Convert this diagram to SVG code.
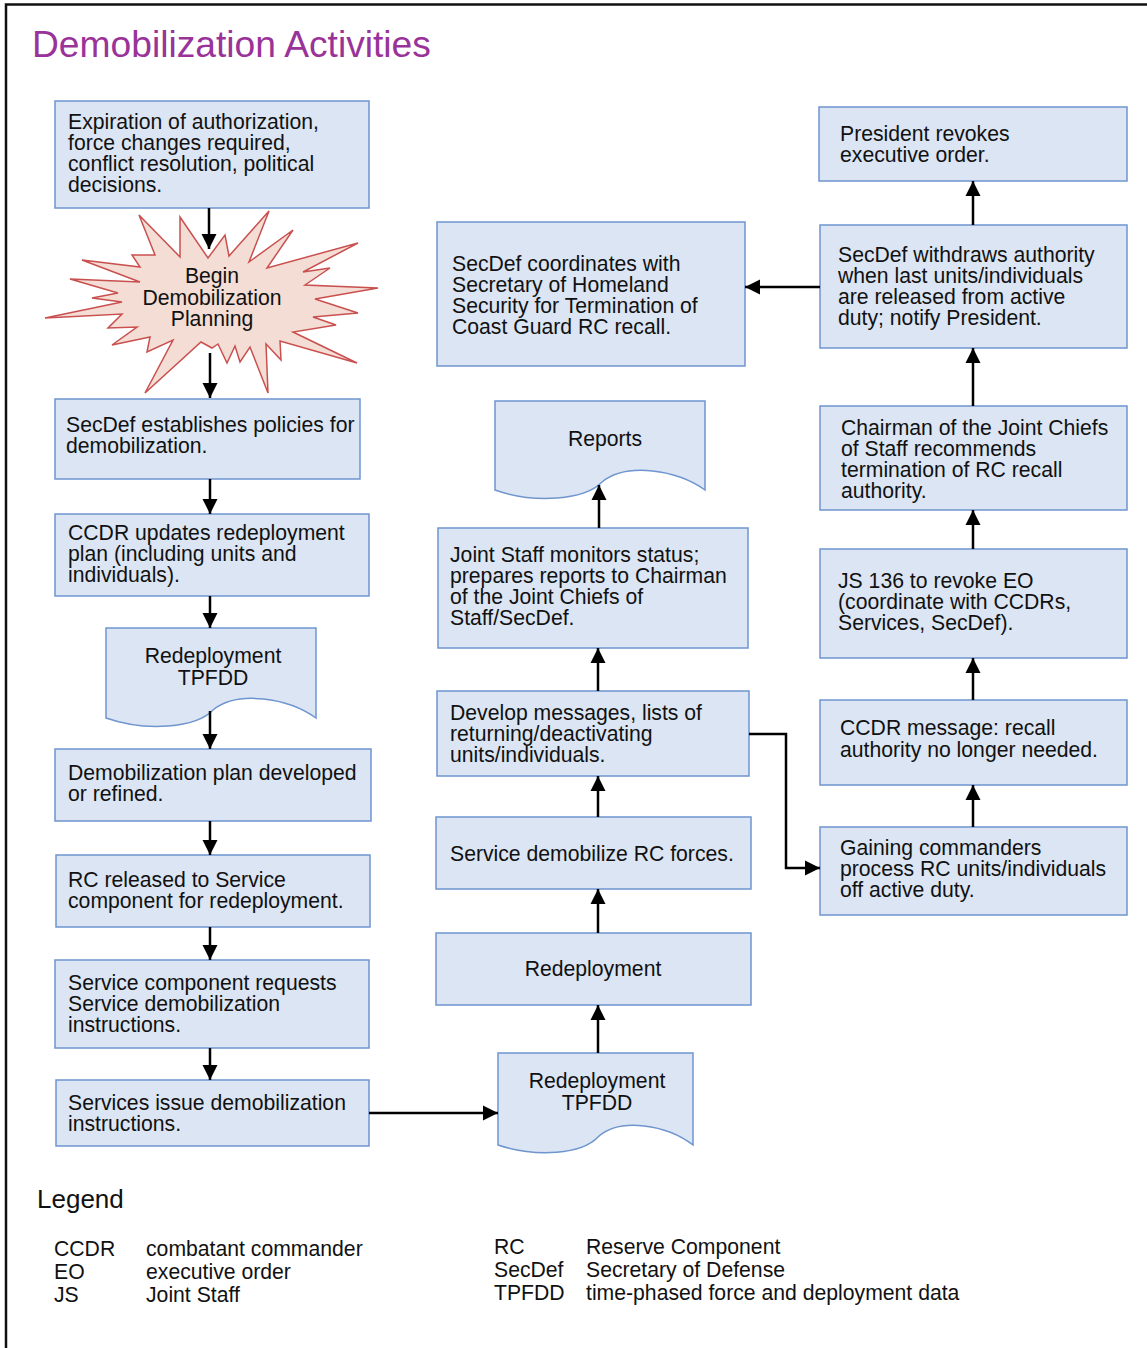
<svg xmlns="http://www.w3.org/2000/svg" width="1147" height="1348" viewBox="0 0 1147 1348">
<style>
text{font-family:"Liberation Sans",Arial,sans-serif;fill:#111;}
.t{font-size:21.2px;}
.c{text-anchor:middle;}
.box{fill:#DBE5F3;stroke:#6F95CF;stroke-width:1.5;}
.burst{fill:#F4DDD4;stroke:#C9504F;stroke-width:1.5;}
.con{fill:none;stroke:#000;stroke-width:2.5;marker-end:url(#ah);}
.leg{font-size:21.2px;}
</style>
<defs>
<marker id="ah" markerWidth="16" markerHeight="16" refX="15" refY="8" orient="auto" markerUnits="userSpaceOnUse">
<path d="M0,0.5 L15,8 L0,15.5 Z" fill="#000"/>
</marker>
</defs>
<rect x="0" y="0" width="1147" height="1348" fill="#fff"/>
<path d="M6,1348 V4.5 H1147" fill="none" stroke="#111" stroke-width="2.5"/>
<text x="32" y="57" style="font-size:37.2px;fill:#993399">Demobilization Activities</text>

<g id="n1"><rect class="box" x="55" y="101" width="314" height="107"/>
<text class="t" x="68" y="129">Expiration of authorization,</text>
<text class="t" x="68" y="150">force changes required,</text>
<text class="t" x="68" y="171">conflict resolution, political</text>
<text class="t" x="68" y="192">decisions.</text></g>

<g id="n2"><polygon class="burst" points="139,215 180,257 180,217 208,258 225,235 229,256 269,211 249,262 293,230 267,268 358,243 303,272 330,268 305,285 378,288 315,299 358,313 313,317 336,325 293,332 357,363 280,341 281,360 266,344 268,393 250,347 240,362 235,346 227,363 218,344 212,348 201,342 145,393 173,340 147,352 150,337 112,345 137,327 108,328 122,314 45,318 122,302 92,298 118,293 70,279 140,282 82,260 140,267 132,255 155,255"/>
<text class="t c" x="212" y="283">Begin</text>
<text class="t c" x="212" y="305">Demobilization</text>
<text class="t c" x="212" y="326">Planning</text></g>

<g id="n3"><rect class="box" x="55" y="399" width="305" height="80"/>
<text class="t" x="66" y="432">SecDef establishes policies for</text>
<text class="t" x="66" y="453">demobilization.</text></g>

<g id="n4"><rect class="box" x="55" y="514" width="314" height="82"/>
<text class="t" x="68" y="540">CCDR updates redeployment</text>
<text class="t" x="68" y="561">plan (including units and</text>
<text class="t" x="68" y="582">individuals).</text></g>

<g id="n5"><path class="box" d="M106,628 H316 V718 C288,698 238,690 213,710 C196,728 146,732 106,718 Z"/>
<text class="t c" x="213" y="663">Redeployment</text>
<text class="t c" x="213" y="685">TPFDD</text></g>

<g id="n6"><rect class="box" x="55" y="749" width="316" height="72"/>
<text class="t" x="68" y="780">Demobilization plan developed</text>
<text class="t" x="68" y="801">or refined.</text></g>

<g id="n7"><rect class="box" x="56" y="855" width="314" height="72"/>
<text class="t" x="68" y="887">RC released to Service</text>
<text class="t" x="68" y="908">component for redeployment.</text></g>

<g id="n8"><rect class="box" x="55" y="960" width="314" height="88"/>
<text class="t" x="68" y="990">Service component requests</text>
<text class="t" x="68" y="1011">Service demobilization</text>
<text class="t" x="68" y="1032">instructions.</text></g>

<g id="n9"><rect class="box" x="56" y="1080" width="313" height="66"/>
<text class="t" x="68" y="1110">Services issue demobilization</text>
<text class="t" x="68" y="1131">instructions.</text></g>

<g id="n10"><rect class="box" x="437" y="222" width="308" height="144"/>
<text class="t" x="452" y="271">SecDef coordinates with</text>
<text class="t" x="452" y="292">Secretary of Homeland</text>
<text class="t" x="452" y="313">Security for Termination of</text>
<text class="t" x="452" y="334">Coast Guard RC recall.</text></g>

<g id="n11"><path class="box" d="M495,401 H705 V490 C677,470 627,462 602,482 C585,500 535,504 495,490 Z"/>
<text class="t c" x="605" y="446">Reports</text></g>

<g id="n12"><rect class="box" x="438" y="528" width="310" height="120"/>
<text class="t" x="450" y="562">Joint Staff monitors status;</text>
<text class="t" x="450" y="583">prepares reports to Chairman</text>
<text class="t" x="450" y="604">of the Joint Chiefs of</text>
<text class="t" x="450" y="625">Staff/SecDef.</text></g>

<g id="n13"><rect class="box" x="437" y="691" width="312" height="85"/>
<text class="t" x="450" y="720">Develop messages, lists of</text>
<text class="t" x="450" y="741">returning/deactivating</text>
<text class="t" x="450" y="762">units/individuals.</text></g>

<g id="n14"><rect class="box" x="436" y="817" width="315" height="72"/>
<text class="t" x="450" y="861">Service demobilize RC forces.</text></g>

<g id="n15"><rect class="box" x="436" y="933" width="315" height="72"/>
<text class="t c" x="593" y="976">Redeployment</text></g>

<g id="n16"><path class="box" d="M498,1053 H693 V1145 C667,1125 620,1117 598,1137 C582,1154 537,1158 498,1145 Z"/>
<text class="t c" x="597" y="1088">Redeployment</text>
<text class="t c" x="597" y="1110">TPFDD</text></g>

<g id="n17"><rect class="box" x="819" y="107" width="308" height="74"/>
<text class="t" x="840" y="141">President revokes</text>
<text class="t" x="840" y="162">executive order.</text></g>

<g id="n18"><rect class="box" x="820" y="225" width="307" height="123"/>
<text class="t" x="838" y="262">SecDef withdraws authority</text>
<text class="t" x="838" y="283">when last units/individuals</text>
<text class="t" x="838" y="304">are released from active</text>
<text class="t" x="838" y="325">duty; notify President.</text></g>

<g id="n19"><rect class="box" x="820" y="406" width="307" height="104"/>
<text class="t" x="841" y="435">Chairman of the Joint Chiefs</text>
<text class="t" x="841" y="456">of Staff recommends</text>
<text class="t" x="841" y="477">termination of RC recall</text>
<text class="t" x="841" y="498">authority.</text></g>

<g id="n20"><rect class="box" x="820" y="549" width="307" height="109"/>
<text class="t" x="838" y="588">JS 136 to revoke EO</text>
<text class="t" x="838" y="609">(coordinate with CCDRs,</text>
<text class="t" x="838" y="630">Services, SecDef).</text></g>

<g id="n21"><rect class="box" x="820" y="700" width="307" height="85"/>
<text class="t" x="840" y="735">CCDR message: recall</text>
<text class="t" x="840" y="757">authority no longer needed.</text></g>

<g id="n22"><rect class="box" x="820" y="827" width="307" height="88"/>
<text class="t" x="840" y="855">Gaining commanders</text>
<text class="t" x="840" y="876">process RC units/individuals</text>
<text class="t" x="840" y="897">off active duty.</text></g>

<g id="connectors">
<path class="con" d="M209,208 V249"/>
<path class="con" d="M210,353 V398"/>
<path class="con" d="M210,479 V514"/>
<path class="con" d="M210,596 V628"/>
<path class="con" d="M210,711 V749"/>
<path class="con" d="M210,821 V855"/>
<path class="con" d="M210,927 V960"/>
<path class="con" d="M210,1048 V1080"/>
<path class="con" d="M369,1113 H498"/>
<path class="con" d="M598,1053 V1005"/>
<path class="con" d="M598,933 V889"/>
<path class="con" d="M598,817 V776"/>
<path class="con" d="M598,691 V648"/>
<path class="con" d="M599,528 V485"/>
<path class="con" d="M749,734 H786 V868 H820"/>
<path class="con" d="M973,827 V785"/>
<path class="con" d="M973,700 V658"/>
<path class="con" d="M973,549 V510"/>
<path class="con" d="M973,406 V348"/>
<path class="con" d="M973,225 V181"/>
<path class="con" d="M820,287 H745"/>
</g>

<g id="legend">
<text x="37" y="1208" style="font-size:26px">Legend</text>
<text class="leg" x="54" y="1256">CCDR</text><text class="leg" x="146" y="1256">combatant commander</text>
<text class="leg" x="54" y="1279">EO</text><text class="leg" x="146" y="1279">executive order</text>
<text class="leg" x="54" y="1302">JS</text><text class="leg" x="146" y="1302">Joint Staff</text>
<text class="leg" x="494" y="1254">RC</text><text class="leg" x="586" y="1254">Reserve Component</text>
<text class="leg" x="494" y="1277">SecDef</text><text class="leg" x="586" y="1277">Secretary of Defense</text>
<text class="leg" x="494" y="1300">TPFDD</text><text class="leg" x="586" y="1300">time-phased force and deployment data</text>
</g>
</svg>
